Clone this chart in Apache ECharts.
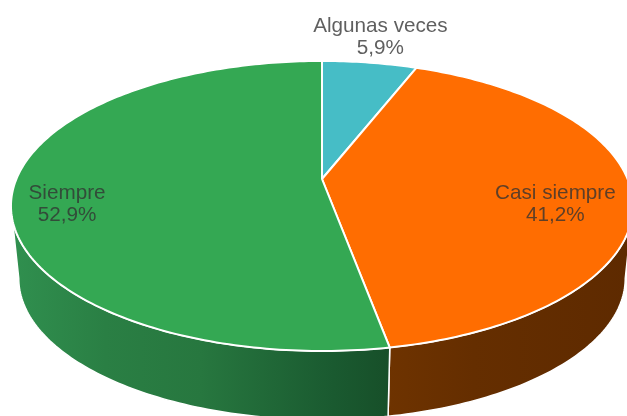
<!DOCTYPE html>
<html><head><meta charset="utf-8">
<style>html,body{margin:0;padding:0;background:#fff;overflow:hidden}#c{width:627px;height:416px}</style>
<script src="https://cdn.jsdelivr.net/npm/echarts@6/dist/echarts.min.js"></script>
</head><body><div id="c"></div>
<script>
// Data, clockwise from 12 o'clock
const categories = ['Algunas veces', 'Casi siempre', 'Siempre'];
const shares = [5.9, 41.2, 52.9];

// Styles
const topColors = ['#46bdc6', '#ff6d01', '#34a853'];
const wallColors = [
  [[0, '#2d7f85'], [1, '#2d7f85']],
  [[0, '#6e3300'], [0.35, '#652e00'], [1, '#5e2a00']],
  [[0, '#30904f'], [0.25, '#2a7f44'], [0.5, '#27773f'], [0.85, '#1a5a30'], [1, '#174f29']]
];
// Label placement: radial factor on the disc, and vertical nudge
const labelRadius = [1.28, 0.757, 0.826];
const labelNudge = [1, 15, 15];

// Perspective disc projection
const CX = 322, CY = 179, RX = 305.6, RY = 140, K = 0.186;
const BOTTOM_CY = 252, BOTTOM_SCALE = 0.975;
const SILHOUETTE = Math.acos(-K) * 180 / Math.PI; // angle where the rim turns away

function project(deg, r, cx, cy, scale) {
  const a = deg * Math.PI / 180, s = Math.sin(a) * r, c = Math.cos(a) * r;
  const w = 1 + K * c;
  return [cx + RX * scale * s / w, cy - RY * scale * c / w];
}
const top3d = (deg, r = 1) => project(deg, r, CX, CY, 1);
const low3d = (deg) => project(deg, 1, CX, BOTTOM_CY, BOTTOM_SCALE);

function arc(from, to, fn) {
  const pts = [], n = Math.max(2, Math.ceil(Math.abs(to - from)));
  for (let i = 0; i <= n; i++) pts.push(fn(from + (to - from) * i / n));
  return pts;
}

const total = shares.reduce((a, b) => a + b, 0);
const startAngles = [];
shares.reduce((acc, v, i) => { startAngles[i] = acc; return acc + v; }, 0);

function renderItem(params, api) {
  const i = params.dataIndex;
  const a0 = startAngles[i] / total * 360;
  const a1 = a0 + api.value(0) / total * 360;
  const children = [];

  // Visible outer wall: front of the disc only
  const w0 = Math.max(a0, SILHOUETTE), w1 = Math.min(a1, 360 - SILHOUETTE);
  if (w1 > w0) {
    const pts = arc(w0, w1, top3d).concat(arc(w1, w0, low3d));
    children.push({
      type: 'polygon', z2: 1,
      shape: { points: pts },
      style: {
        fill: new echarts.graphic.LinearGradient(0, 0, 1, 0,
          wallColors[i].map(s => ({ offset: s[0], color: s[1] }))),
        stroke: '#fff', lineWidth: 1.5
      }
    });
  }

  // Top face
  children.push({
    type: 'polygon', z2: 2,
    shape: { points: [[CX, CY]].concat(arc(a0, a1, top3d)) },
    style: { fill: topColors[i], stroke: '#fff', lineWidth: 2, lineJoin: 'round' }
  });

  // Label
  const p = top3d((a0 + a1) / 2, labelRadius[i]);
  children.push({
    type: 'text', z2: 3,
    x: p[0], y: p[1] + labelNudge[i],
    style: {
      text: categories[i] + '\n' + api.value(0).toFixed(1).replace('.', ',') + '%',
      align: 'center', verticalAlign: 'middle',
      font: '20.7px "Liberation Sans", Arial, sans-serif',
      lineHeight: 22,
      fill: 'rgba(50,50,50,0.78)'
    }
  });
  return { type: 'group', children };
}

const chart = echarts.init(document.getElementById('c'), null, { renderer: 'canvas' });
chart.setOption({
  animation: false,
  backgroundColor: '#fff',
  series: [{
    type: 'custom',
    coordinateSystem: 'none',
    renderItem,
    data: shares.map(v => [v])
  }]
});
</script></body></html>
